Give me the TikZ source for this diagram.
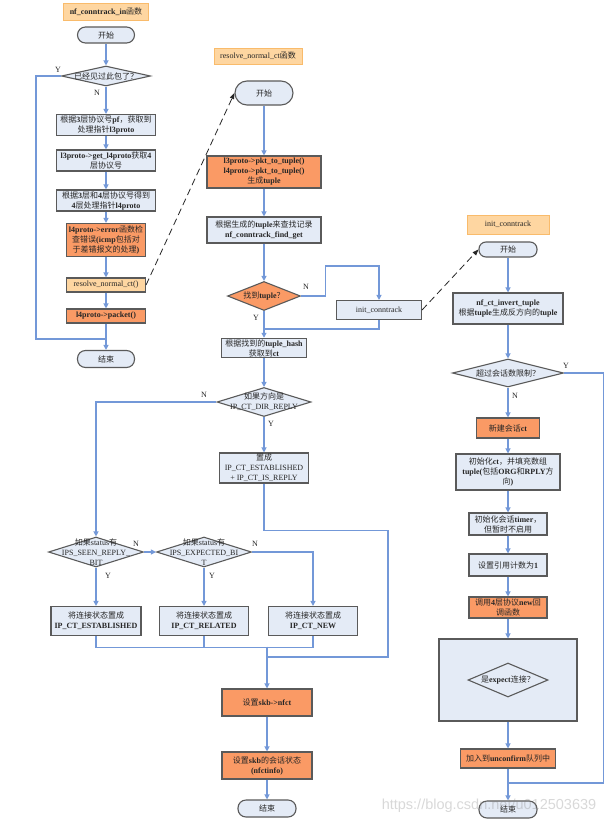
\documentclass[tikz,border=0pt]{standalone}
\usepackage{fontspec}
\setmainfont{Liberation Serif}
\newfontfamily\cjk{Noto Sans CJK SC}
\newfontfamily\wmfont{Liberation Sans}
\usetikzlibrary{shapes.geometric,arrows.meta}
\def\latser{\mdseries}
\newcommand\cjkf{\cjk\mdseries}
\newcommand\latf{\rmfamily\latser}
\XeTeXinterchartokenstate=1
\newXeTeXintercharclass\cjkcls
\count255="4E00 
\loop \XeTeXcharclass\count255=\cjkcls \ifnum\count255<"9FFF \advance\count255 by 1 \repeat
\XeTeXcharclass"FF0C=\cjkcls
\XeTeXcharclass"FF1F=\cjkcls
\XeTeXinterchartoks 0 \cjkcls = {\cjkf}
\XeTeXinterchartoks 4095 \cjkcls = {\cjkf}
\XeTeXinterchartoks \cjkcls 0 = {\latf}
\XeTeXinterchartoks \cjkcls 4095 = {\latf}
\definecolor{lblue}{HTML}{E4EBF6}
\definecolor{bord}{HTML}{5A5A5A}
\definecolor{orng}{HTML}{FA9A65}
\definecolor{lorng}{HTML}{FED6A1}
\definecolor{tbord}{HTML}{F9BB6B}
\definecolor{wire}{HTML}{7398D8}
\tikzset{
  txt/.style={font=\fontsize{8}{10}\selectfont, align=center, inner sep=1pt, text=black!85},
  bl/.style={font=\fontsize{8}{10}\selectfont\def\latser{\bfseries}\bfseries},
  sz/.style 2 args={minimum width=#1pt, minimum height=#2pt},
  bx/.style={txt, rectangle, draw=bord, line width=1.1pt, fill=lblue},
  obox/.style={bx, fill=orng},
  lobox/.style={bx, fill=lorng},
  term/.style={bx, rounded corners=#1},
  term/.default=8pt,
  ttl/.style={txt, rectangle, draw=tbord, fill=lorng, line width=1pt},
  dia/.style={diamond, draw=bord, line width=1.1pt, fill=lblue, inner sep=0pt},
  lab/.style={font=\fontsize{8}{10}\selectfont, text=black!85, inner sep=0pt, align=center},
  labb/.style={font=\fontsize{8}{10}\selectfont\def\latser{\bfseries}, text=black!85, inner sep=0pt, align=center},
  conn/.style={draw=wire, line width=1.1pt},
  arr/.style={conn, -{Triangle[length=5pt,width=5pt]}},
  dsh/.style={draw=black!85, line width=0.8pt, dash pattern=on 7pt off 4pt, -{Triangle[length=6pt,width=4.5pt]}}
}
\begin{document}
\begin{tikzpicture}[x=1pt,y=-1pt]
\useasboundingbox[fill=white] (0,0) rectangle (614,825);
% ---------------- left column ----------------
\node[ttl,bl,sz={85}{17}] (t1) at (106,12) {nf\_conntrack\_in函数};
\node[term=8pt,sz={57}{16}] (s1) at (106,35) {开始};
\node[dia,sz={89}{20},label={[lab]center:{已经见过此包了？}}] (d1) at (106,76) {};
\node[bx,bl,sz={99}{21}] (b1) at (106,125) {根据3层协议号pf，获取到\\处理指针l3proto};
\node[bx,bl,sz={99}{21}] (b2) at (106,160.5) {l3proto->get\_l4proto获取4\\层协议号};
\node[bx,bl,sz={99}{21}] (b3) at (106,200.5) {根据3层和4层协议号得到\\4层处理指针l4proto};
\node[obox,bl,sz={79}{33}] (b4) at (106,240) {l4proto->error函数检\\查错误(icmp包括对\\于差错报文的处理)};
\node[lobox,sz={79}{14}] (b5) at (106,285) {resolve\_normal\_ct()};
\node[obox,bl,sz={79}{14}] (b6) at (106,316) {l4proto->packet()};
\node[term=8pt,sz={57}{17}] (e1) at (106,359) {结束};
\node[lab] (ly1) at (58,70) {Y};
\node[lab] (ln1) at (97,93) {N};
\draw[arr] (s1) -- (d1);
\draw[arr] (d1) -- (b1);
\draw[arr] (b1) -- (b2);
\draw[arr] (b2) -- (b3);
\draw[arr] (b3) -- (b4);
\draw[arr] (b4) -- (b5);
\draw[arr] (b5) -- (b6);
\draw[arr] (b6) -- (e1);
\coordinate (j1) at (106,339);
\draw[conn] (d1.west) -- ++(-25,0) |- (j1);
% ---------------- middle column ----------------
\node[ttl,sz={88}{16}] (t2) at (258,56) {resolve\_normal\_ct函数};
\node[term=12pt,sz={58}{24}] (s2) at (264,93) {开始};
\node[obox,bl,sz={114}{32}] (m1) at (264,172) {l3proto->pkt\_to\_tuple()\\l4proto->pkt\_to\_tuple()\\生成tuple};
\node[bx,bl,sz={114}{26}] (m2) at (264,230) {根据生成的tuple来查找记录\\nf\_conntrack\_find\_get};
\node[dia,fill=orng,sz={73}{29},label={[labb]center:{找到tuple？}}] (md1) at (264,296) {};
\node[bx,sz={85}{19}] (ic) at (379,310) {init\_conntrack};
\node[bx,bl,sz={85}{19}] (m3) at (264,348) {根据找到的tuple\_hash\\获取到ct};
\node[dia,sz={94}{29},label={[lab]center:{如果方向是\\IP\_CT\_DIR\_REPLY}}] (md2) at (264,402) {};
\node[bx,sz={89}{30}] (m4) at (264,468) {置成\\IP\_CT\_ESTABLISHED\\+ IP\_CT\_IS\_REPLY};
\node[dia,sz={95}{30},label={[lab]center:{如果status有\\IPS\_SEEN\_REPLY\_\\BIT}}] (sd1) at (96,552) {};
\node[dia,sz={95}{30},label={[lab]center:{如果status有\\IPS\_EXPECTED\_BI\\T}}] (sd2) at (204,552) {};
\node[bx,bl,sz={90}{29}] (r1) at (96,621) {将连接状态置成\\IP\_CT\_ESTABLISHED};
\node[bx,bl,sz={89}{29}] (r2) at (204,621) {将连接状态置成\\IP\_CT\_RELATED};
\node[bx,bl,sz={89}{29}] (r3) at (313,621) {将连接状态置成\\IP\_CT\_NEW};
\node[obox,bl,sz={90}{27}] (n1) at (267,702.5) {设置skb->nfct};
\node[obox,bl,sz={90}{27}] (n2) at (267,765.5) {设置skb的会话状态\\(nfctinfo)};
\node[term=8pt,sz={58}{17}] (e2) at (267,808.5) {结束};
\node[lab] (ln2) at (306,287) {N};
\node[lab] (ly2) at (256,318) {Y};
\node[lab] (ln3) at (204,395) {N};
\node[lab] (ly3) at (271,424) {Y};
\node[lab] (ln4) at (136,544) {N};
\node[lab] (ly4) at (108,576) {Y};
\node[lab] (ln5) at (255,544) {N};
\node[lab] (ly5) at (212,576) {Y};
\draw[dsh] (b5.east) -- (s2.west);
\draw[arr] (s2) -- (m1);
\draw[arr] (m1) -- (m2);
\draw[arr] (m2) -- (md1);
\draw[arr] (md1.east) -- ++(24,0) -- ++(0,-30) -| (ic.north);
\coordinate (j2) at (264,329);
\draw[conn] (ic.south) |- (j2);
\draw[arr] (md1) -- (m3);
\draw[arr] (m3) -- (md2);
\draw[arr] (md2.west) -| (sd1.north);
\draw[arr] (md2) -- (m4);
\coordinate (j3) at (267,657);
\draw[conn] (m4.south) -- ++(0,47) -- ++(124,0) |- (j3);
\draw[arr] (sd1.east) -- (sd2.west);
\draw[arr] (sd2.east) -| (r3.north);
\draw[arr] (sd1) -- (r1);
\draw[arr] (sd2) -- (r2);
\draw[conn] (r1.south) -- ++(0,11) -| (r3.south);
\draw[conn] (r2.south) -- ++(0,11);
\coordinate (j4) at (267,646.5);
\draw[arr] (j4) -- (n1.north);
\draw[arr] (n1) -- (n2);
\draw[arr] (n2) -- (e2);
% ---------------- right column ----------------
\node[ttl,sz={82}{19}] (t3) at (508,224.5) {init\_conntrack};
\node[term=7pt,sz={58}{15}] (s3) at (508,249.5) {开始};
\node[bx,bl,sz={110}{31}] (q1) at (508,308.5) {nf\_ct\_invert\_tuple\\根据tuple生成反方向的tuple};
\node[dia,sz={111}{28},label={[lab]center:{超过会话数限制？}}] (qd) at (508,373) {};
\node[obox,bl,sz={63}{20}] (q2) at (508,428) {新建会话ct};
\node[bx,bl,sz={104}{36}] (q3) at (508,472) {初始化ct，并填充数组\\tuple(包括ORG和RPLY方\\向)};
\node[bx,bl,sz={78}{22}] (q4) at (508,524) {初始化会话timer，\\但暂时不启用};
\node[bx,bl,sz={78}{22}] (q5) at (508,565) {设置引用计数为1};
\node[obox,bl,sz={78}{21}] (q6) at (508,607.5) {调用4层协议new回\\调函数};
\node[bx,sz={138}{82}] (big) at (508,680) {};
\node[dia,sz={80}{34},label={[labb]center:{是expect连接？}}] (qd2) at (508,680) {};
\node[obox,bl,sz={95}{19}] (q7) at (508,758.5) {加入到unconfirm队列中};
\node[term=8pt,sz={58}{17}] (e3) at (508,809.5) {结束};
\node[lab] (ly6) at (566,366) {Y};
\node[lab] (ln6) at (515,396) {N};
\draw[dsh] (ic.east) -- (s3.west);
\draw[arr] (s3) -- (q1);
\draw[arr] (q1) -- (qd);
\draw[arr] (qd) -- (q2);
\draw[arr] (q2) -- (q3);
\draw[arr] (q3) -- (q4);
\draw[arr] (q4) -- (q5);
\draw[arr] (q5) -- (q6);
\draw[arr] (q6) -- (big);
\draw[arr] (big) -- (q7);
\draw[arr] (q7) -- (e3);
\coordinate (j5) at (508,783);
\draw[conn] (qd.east) -- ++(39,0) |- (j5);
% watermark
\node[font=\wmfont\fontsize{14.5}{15}\selectfont, text=gray, opacity=0.3, inner sep=0pt] (wm) at (489,806) {https://blog.csdn.net/u012503639};
\end{tikzpicture}
\end{document}
